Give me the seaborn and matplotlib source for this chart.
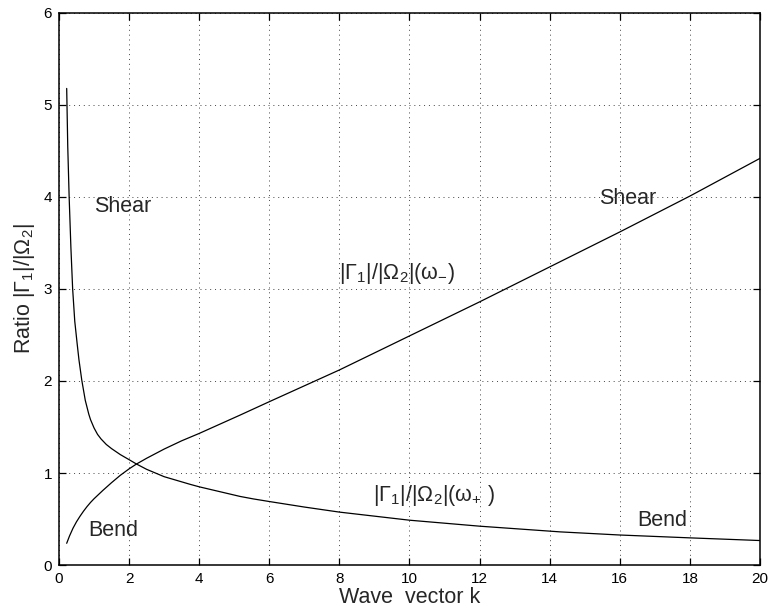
import numpy as np
import pandas as pd
import matplotlib
matplotlib.use("Agg")
import matplotlib.pyplot as plt
import seaborn as sns

# ---- data ----
k_minus = [0.22, 0.3, 0.4, 0.5, 0.6, 0.7, 0.8, 0.9, 1.0, 1.25, 1.5, 1.75, 2.0, 2.2, 2.5,
           3.0, 3.5, 4.0, 5.17, 6.0, 8.0, 9.46, 10.0, 12.0, 14.0, 16.0, 18.0, 20.0]
r_minus = [0.236, 0.315, 0.40, 0.47, 0.53, 0.585, 0.635, 0.68, 0.72, 0.81, 0.895, 0.975, 1.045, 1.095, 1.16,
           1.26, 1.35, 1.43, 1.63, 1.775, 2.12, 2.39, 2.49, 2.86, 3.24, 3.62, 4.01, 4.42]

k_plus = [0.22, 0.25, 0.29, 0.34, 0.39, 0.45, 0.52, 0.57, 0.65, 0.75, 0.85, 0.9, 1.0, 1.1, 1.2,
          1.35, 1.5, 1.75, 2.0, 2.2, 2.5, 3.0, 3.74, 4.0, 5.17, 5.55, 6.0, 7.0, 8.0, 10.0,
          12.0, 14.3, 16.0, 18.0, 20.0]
r_plus = [5.18, 4.55, 4.0, 3.45, 3.0, 2.65, 2.4, 2.23, 2.01, 1.79, 1.64, 1.58, 1.49, 1.42, 1.37,
          1.31, 1.265, 1.20, 1.145, 1.10, 1.04, 0.96, 0.877, 0.85, 0.745, 0.718, 0.69, 0.63, 0.575, 0.487,
          0.422, 0.36, 0.326, 0.295, 0.266]

x_ticks = [0, 2, 4, 6, 8, 10, 12, 14, 16, 18, 20]
y_ticks = [0, 1, 2, 3, 4, 5, 6]

# ---- style ----
sns.set_style("white")
plt.rcParams['font.family'] = ['Liberation Sans', 'DejaVu Sans']
plt.rcParams['mathtext.fontset'] = 'custom'
plt.rcParams['mathtext.rm'] = 'Liberation Sans'
plt.rcParams['mathtext.it'] = 'Liberation Sans'
plt.rcParams['mathtext.bf'] = 'Liberation Sans'

fig = plt.figure(figsize=(7.7, 6.13), dpi=100)
ax = fig.add_axes([0.0766, 0.0783, 0.9104, 0.9005])

df_m = pd.DataFrame({"k": k_minus, "r": r_minus})
df_p = pd.DataFrame({"k": k_plus, "r": r_plus})
sns.lineplot(data=df_m, x="k", y="r", ax=ax, color="black", lw=0.9, estimator=None)
sns.lineplot(data=df_p, x="k", y="r", ax=ax, color="black", lw=0.9, estimator=None)

ax.set_xlim(0, 20)
ax.set_ylim(0, 6)
ax.set_xticks(x_ticks)
ax.set_yticks(y_ticks)
ax.set_xticklabels([str(t) for t in x_ticks], fontsize=11)
ax.set_yticklabels([str(t) for t in y_ticks], fontsize=11)
ax.tick_params(direction="in", length=5, width=0.9, top=True, right=True,
               bottom=True, left=True, pad=5, colors="black")
ax.grid(True, linestyle=(0, (1, 4)), color="#444444", lw=0.7)
for s in ax.spines.values():
    s.set_visible(True)
    s.set_color("black")
    s.set_linewidth(1.1)

ax.set_xlabel("Wave  vector k", fontsize=15.5, labelpad=1)
ax.set_ylabel("Ratio |Γ$_1$|/|Ω$_2$|", fontsize=15.5, labelpad=5)

fs = 15.5
ax.text(1.0, 3.9, "Shear", fontsize=fs, ha="left", va="center")
ax.text(15.4, 3.98, "Shear", fontsize=fs, ha="left", va="center")
ax.text(0.83, 0.38, "Bend", fontsize=fs, ha="left", va="center")
ax.text(16.5, 0.48, "Bend", fontsize=fs, ha="left", va="center")
ax.text(8.0, 3.17, "|Γ$_1$|/|Ω$_2$|(ω$_{-}$)", fontsize=fs, ha="left", va="center")
ax.text(8.95, 0.76, "|Γ$_1$|/|Ω$_2$|(ω$_{+}$ )", fontsize=fs, ha="left", va="center")

fig.savefig("out.png", dpi=100)
